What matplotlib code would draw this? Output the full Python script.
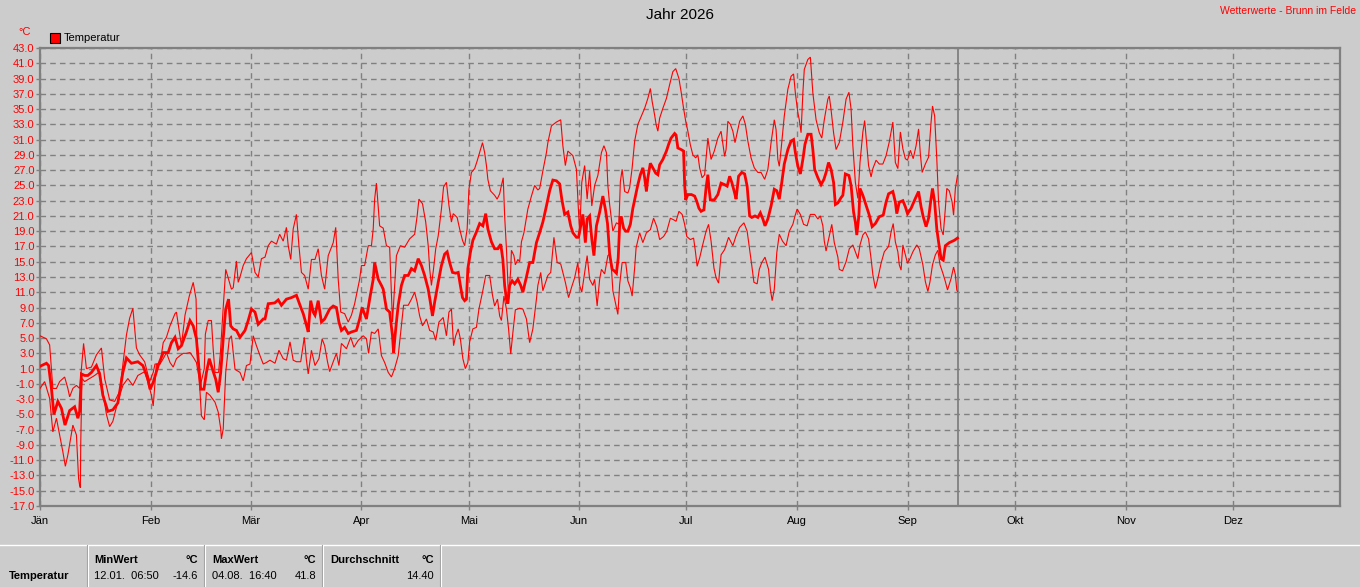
import numpy as np
import pandas as pd
import matplotlib
matplotlib.use('Agg')
import matplotlib.pyplot as plt
from matplotlib.lines import Line2D
from matplotlib.patches import Rectangle

plt.rcParams['font.family'] = ['Liberation Sans', 'DejaVu Sans']
plt.rcParams['lines.scale_dashes'] = False

W, H = 1360, 587
BG = '#cccccc'
GRID = '#808080'

YEAR = 2026
MONTHS = ['Jän', 'Feb', 'Mär', 'Apr', 'Mai', 'Jun', 'Jul', 'Aug', 'Sep', 'Okt', 'Nov', 'Dez']
TODAY = '2026-09-15'
STATION = 'Wetterwerte - Brunn im Felde'

# (day of year counted from 1 Jan = 0, deg C)
temp_max = [
    (0.0, 5.3), (1.8, 4.9), (2.7, 4.1), (3.6, -1.6), (4.6, -1.6), (5.5, -0.7), (6.9, -0.1), (7.8, -1.6),
    (8.3, -2.7), (9.2, -1.6), (10.2, -1.2), (11.1, -1.6), (11.6, 1.0), (12.2, 4.3), (13.0, 1.0), (14.4, 1.2),
    (15.8, 2.8), (17.2, 3.7), (18.1, -0.3), (19.5, -3.1), (20.9, -3.3), (22.3, -2.0), (24.2, 5.4), (25.1, 7.6),
    (26.0, 8.9), (27.0, 3.7), (27.9, 2.8), (29.3, 1.9), (30.7, -0.7), (31.7, 0.5), (32.2, 1.6), (33.6, 1.6),
    (34.5, 4.4), (35.4, 5.1), (36.4, 6.6), (37.8, 8.2), (38.2, 8.4), (39.6, 4.0), (40.6, 8.0), (41.8, 10.5),
    (42.9, 12.3), (43.7, 10.1), (43.9, 5.0), (44.5, 1.5), (45.0, -1.0), (46.0, 1.0), (46.3, 5.5), (47.1, 7.3),
    (48.0, 7.3), (48.5, 3.5), (49.0, 0.5), (50.0, 0.5), (50.5, 3.0), (51.3, 9.0), (52.0, 14.0), (53.6, 11.4),
    (54.1, 11.6), (55.0, 15.1), (55.5, 12.3), (56.0, 13.0), (56.9, 14.5), (57.8, 15.4), (59.2, 16.2), (60.2, 13.6),
    (61.1, 13.0), (62.0, 15.4), (63.0, 15.6), (63.9, 17.1), (64.8, 17.7), (66.2, 17.3), (67.1, 18.6), (68.1, 17.7),
    (69.0, 19.5), (69.5, 17.1), (70.2, 15.3), (70.9, 19.3), (71.8, 21.2), (72.5, 17.1), (73.2, 13.6), (74.1, 13.2),
    (75.1, 11.4), (76.0, 15.3), (77.0, 15.3), (77.9, 16.7), (78.8, 13.2), (79.7, 11.4), (80.7, 15.8), (82.1, 17.5),
    (82.8, 19.5), (83.5, 12.7), (84.2, 8.4), (85.3, 8.2), (86.3, 7.1), (87.2, 8.0), (88.1, 9.5), (89.5, 12.7),
    (90.0, 14.5), (90.9, 14.5), (91.9, 17.1), (92.8, 17.1), (93.3, 19.3), (93.7, 23.2), (94.2, 25.3), (95.1, 19.7),
    (96.1, 19.4), (97.0, 17.1), (97.9, 16.9), (98.7, 7.1), (99.8, 15.8), (100.9, 17.1), (102.1, 16.9), (103.5, 18.0),
    (104.9, 18.6), (105.6, 21.0), (106.1, 23.2), (107.1, 22.6), (108.0, 20.2), (108.7, 17.1), (109.1, 14.1), (109.6, 11.9),
    (110.2, 14.1), (110.8, 16.7), (111.5, 18.4), (112.4, 21.9), (113.0, 24.8), (113.8, 25.4), (114.5, 22.4), (115.2, 20.2),
    (115.7, 21.3), (116.8, 20.8), (117.5, 19.3), (118.3, 17.8), (118.9, 17.1), (119.6, 19.3), (120.1, 24.5), (120.8, 26.7),
    (121.7, 27.2), (122.4, 28.2), (123.1, 29.3), (123.9, 30.6), (124.5, 29.3), (125.0, 27.6), (125.4, 25.8), (126.1, 24.3),
    (127.3, 23.7), (128.0, 23.2), (128.7, 23.9), (129.2, 25.0), (129.7, 26.0), (130.1, 21.0), (130.6, 16.7), (131.2, 10.1),
    (131.8, 14.0), (132.0, 16.5), (132.7, 15.8), (133.1, 14.6), (133.8, 15.3), (134.3, 15.0), (134.8, 17.6), (135.5, 18.8),
    (136.6, 21.9), (137.6, 23.6), (138.5, 25.0), (139.4, 24.4), (139.9, 24.6), (140.8, 26.9), (141.8, 29.3), (142.2, 30.6),
    (143.2, 32.8), (144.6, 33.3), (145.8, 33.6), (146.4, 30.2), (147.1, 27.6), (147.8, 29.5), (149.2, 28.9), (150.2, 27.1),
    (150.6, 23.2), (151.1, 18.8), (151.7, 25.4), (152.5, 27.6), (153.2, 23.2), (153.9, 26.9), (154.5, 22.3), (155.3, 25.0),
    (156.2, 26.3), (157.2, 29.3), (157.9, 30.2), (158.6, 29.3), (159.0, 25.0), (159.5, 22.5), (160.4, 19.0), (161.4, 20.1),
    (162.1, 19.9), (162.5, 25.5), (163.0, 27.1), (163.7, 24.2), (164.6, 24.0), (165.1, 24.7), (165.8, 27.3), (166.5, 30.8),
    (167.4, 33.0), (168.3, 34.0), (169.3, 35.1), (170.2, 36.4), (170.9, 37.7), (171.4, 36.0), (172.1, 34.2), (172.5, 33.0),
    (173.0, 32.1), (173.5, 33.8), (174.4, 35.1), (175.4, 36.4), (176.3, 38.2), (177.2, 39.9), (178.0, 40.3), (178.9, 39.0),
    (179.5, 37.3), (180.2, 35.1), (180.8, 33.4), (181.4, 32.1), (182.1, 30.3), (182.8, 29.0), (183.6, 28.6), (184.2, 29.0),
    (184.7, 27.3), (185.4, 26.0), (186.1, 26.4), (186.5, 28.6), (187.0, 31.2), (187.4, 29.9), (187.9, 28.4), (188.8, 29.5),
    (189.8, 31.2), (190.7, 32.1), (191.2, 30.5), (191.7, 28.8), (192.1, 29.7), (192.6, 33.4), (193.3, 33.0), (194.0, 32.1),
    (194.6, 30.6), (195.2, 31.9), (195.9, 33.4), (196.8, 34.1), (197.5, 33.0), (198.2, 30.8), (199.1, 28.6), (200.0, 27.3),
    (201.0, 26.7), (201.9, 26.7), (202.9, 25.8), (203.8, 27.1), (204.7, 30.6), (205.6, 33.6), (206.1, 32.3), (206.6, 28.4),
    (207.0, 27.5), (207.5, 29.7), (208.4, 34.1), (209.4, 37.6), (210.3, 39.3), (211.0, 39.6), (211.5, 37.1), (212.2, 34.5),
    (212.6, 33.6), (213.1, 31.9), (213.6, 37.1), (214.0, 40.2), (215.0, 41.5), (215.7, 41.8), (216.4, 37.1), (217.3, 33.6),
    (218.2, 31.9), (218.9, 31.2), (219.6, 33.6), (220.6, 36.3), (221.0, 36.7), (221.5, 34.9), (222.2, 31.9), (222.9, 29.7),
    (223.8, 30.6), (224.8, 33.3), (225.7, 36.3), (226.5, 37.2), (227.1, 35.0), (227.6, 30.2), (228.3, 25.4), (229.0, 23.3),
    (229.6, 28.0), (230.4, 32.0), (230.9, 33.5), (231.5, 30.2), (232.0, 27.6), (232.7, 26.1), (233.2, 27.2), (234.1, 28.3),
    (235.0, 27.8), (236.0, 27.8), (236.9, 28.9), (237.8, 30.7), (238.8, 33.3), (239.5, 28.0), (240.2, 27.2), (240.9, 32.0),
    (241.6, 29.8), (242.3, 28.5), (242.9, 28.3), (243.7, 29.6), (244.5, 28.5), (245.3, 30.2), (246.0, 32.4), (246.5, 29.1),
    (247.0, 26.7), (247.9, 27.8), (248.8, 28.7), (249.5, 33.3), (249.9, 35.4), (250.5, 34.1), (251.1, 28.5), (251.6, 22.8),
    (252.3, 19.3), (252.9, 18.5), (253.5, 22.0), (253.9, 24.6), (254.6, 24.3), (255.4, 22.8), (255.8, 21.1), (256.3, 24.6),
    (256.9, 26.3),
]

temp_mean = [
    (0.0, 1.3), (1.8, 1.7), (2.4, 1.4), (3.2, -1.6), (3.9, -5.0), (5.0, -3.3), (6.0, -4.2), (7.0, -6.4),
    (8.3, -4.5), (9.7, -4.0), (10.6, -5.5), (11.1, -4.6), (11.6, 0.3), (12.5, 0.1), (13.4, 0.1), (14.4, 0.5),
    (15.8, 1.4), (16.7, 0.3), (17.6, -2.5), (18.6, -4.0), (19.0, -4.6), (20.4, -4.4), (21.8, -3.5), (23.2, 0.5),
    (24.2, 2.4), (25.6, 1.7), (27.4, 1.9), (28.8, 1.4), (30.2, -0.3), (30.8, -1.7), (31.7, -0.8), (33.1, 1.4),
    (34.5, 3.1), (35.9, 3.1), (36.8, 4.4), (37.8, 5.1), (38.7, 3.6), (39.6, 4.0), (41.0, 5.8), (42.0, 7.3),
    (42.9, 6.6), (43.8, 4.9), (44.6, 0.5), (45.0, -1.7), (45.9, -1.7), (46.6, 0.5), (47.4, 2.3), (48.3, 0.9),
    (49.2, -0.4), (49.9, -2.1), (50.6, 0.5), (51.3, 4.9), (52.0, 8.8), (52.8, 10.1), (53.4, 6.6), (54.1, 6.2),
    (55.0, 6.0), (56.0, 5.1), (57.4, 6.0), (58.3, 7.3), (59.2, 8.8), (60.2, 8.4), (61.1, 6.8), (62.5, 7.5),
    (63.0, 7.5), (63.9, 9.5), (65.7, 9.6), (66.7, 10.0), (67.6, 9.3), (69.0, 10.1), (70.4, 10.3), (71.8, 10.6),
    (72.8, 9.3), (73.7, 8.2), (74.6, 6.7), (75.1, 5.8), (75.8, 9.9), (76.5, 8.4), (77.0, 8.0), (77.9, 9.9),
    (78.8, 7.1), (79.7, 7.5), (81.1, 8.8), (82.1, 9.2), (83.0, 9.0), (83.7, 7.1), (84.4, 6.0), (85.3, 6.4),
    (86.3, 5.6), (87.2, 5.8), (88.6, 6.0), (89.5, 7.5), (90.2, 9.0), (91.0, 8.0), (91.4, 7.5), (92.3, 10.1),
    (93.3, 12.7), (93.7, 14.9), (94.7, 12.7), (95.6, 11.9), (96.1, 11.4), (97.0, 8.8), (97.9, 8.4), (98.7, 5.3),
    (99.0, 3.1), (99.6, 6.2), (100.3, 9.3), (101.2, 11.9), (102.1, 13.2), (103.1, 13.2), (104.0, 14.1), (104.9, 13.8),
    (105.9, 15.4), (106.8, 14.5), (107.7, 13.2), (108.7, 11.4), (109.3, 9.7), (109.9, 7.9), (110.5, 9.7), (111.5, 12.3),
    (112.4, 14.5), (113.3, 16.0), (114.0, 16.3), (114.7, 14.9), (115.5, 13.6), (116.4, 13.5), (117.1, 13.6), (117.7, 11.9),
    (118.3, 10.3), (118.9, 9.9), (119.4, 10.1), (119.8, 14.1), (120.5, 16.2), (121.2, 17.8), (122.2, 18.9), (123.1, 20.0),
    (124.0, 19.7), (124.8, 21.3), (125.4, 19.3), (126.4, 17.6), (127.3, 16.7), (128.2, 16.7), (129.0, 17.3), (129.6, 15.3),
    (130.1, 11.9), (130.6, 10.1), (131.0, 9.5), (131.5, 11.9), (132.2, 12.5), (132.9, 12.1), (133.8, 12.7), (134.6, 11.9),
    (135.2, 11.0), (136.2, 13.0), (137.1, 14.9), (138.0, 14.9), (139.0, 17.5), (139.9, 18.8), (140.8, 20.2), (141.8, 22.3),
    (142.7, 24.3), (143.6, 25.7), (144.6, 25.6), (145.5, 25.2), (146.1, 23.2), (146.9, 21.2), (147.8, 21.5), (148.6, 19.7),
    (149.2, 18.8), (150.2, 18.2), (150.8, 18.2), (151.6, 20.2), (152.0, 21.2), (152.7, 17.5), (153.2, 20.6), (153.9, 21.0),
    (154.5, 18.0), (155.1, 15.8), (155.8, 19.7), (156.7, 21.5), (157.6, 23.6), (158.3, 21.9), (158.9, 20.0), (159.5, 16.0),
    (160.2, 14.0), (160.8, 13.8), (161.4, 13.5), (161.9, 15.5), (162.4, 20.8), (162.8, 20.8), (163.4, 19.4), (164.0, 19.0),
    (164.6, 19.0), (165.3, 19.9), (166.0, 22.0), (166.8, 23.8), (167.4, 25.1), (168.1, 26.4), (168.8, 27.3), (169.3, 26.0),
    (169.8, 24.2), (170.2, 26.0), (170.9, 27.9), (171.6, 27.3), (172.4, 26.6), (173.0, 26.4), (173.5, 27.7), (174.4, 28.4),
    (175.4, 29.5), (176.1, 30.5), (176.7, 31.2), (177.7, 31.8), (178.1, 31.6), (178.6, 29.9), (179.5, 29.7), (180.2, 29.5),
    (180.5, 25.1), (180.8, 23.1), (181.4, 23.8), (182.4, 23.8), (183.3, 23.6), (183.9, 22.9), (184.5, 22.0), (185.1, 21.6),
    (185.9, 21.8), (186.5, 24.7), (187.0, 26.4), (187.3, 24.7), (187.7, 23.1), (188.8, 23.1), (189.8, 23.8), (190.7, 25.3),
    (191.7, 25.1), (192.4, 24.9), (193.1, 26.2), (193.7, 25.4), (194.5, 24.0), (194.9, 23.2), (195.6, 26.2), (196.5, 26.7),
    (197.3, 26.5), (198.0, 24.9), (198.7, 21.0), (199.3, 20.8), (200.2, 21.0), (201.0, 20.8), (201.7, 21.4), (202.4, 20.6),
    (203.0, 19.7), (203.8, 20.6), (204.7, 22.3), (205.6, 24.5), (206.3, 24.3), (207.0, 23.2), (207.7, 25.4), (208.4, 27.8),
    (209.4, 29.7), (210.3, 30.8), (211.0, 31.0), (211.5, 29.3), (212.2, 27.5), (212.9, 26.5), (213.6, 28.4), (214.2, 30.4),
    (215.0, 31.7), (215.9, 31.7), (216.4, 29.7), (216.9, 27.1), (217.8, 26.0), (218.7, 25.1), (219.5, 25.8), (220.1, 26.7),
    (220.8, 28.0), (221.5, 27.1), (222.2, 25.4), (222.7, 22.5), (223.4, 22.7), (224.3, 23.4), (224.8, 23.7), (225.5, 26.5),
    (226.5, 26.3), (227.1, 25.0), (227.8, 21.5), (228.3, 20.2), (228.7, 18.5), (229.3, 21.1), (229.6, 24.6), (230.4, 23.7),
    (231.3, 22.4), (232.2, 21.1), (233.0, 19.6), (233.9, 20.0), (235.0, 20.9), (236.1, 21.1), (236.9, 22.8), (237.6, 23.9),
    (238.8, 24.2), (239.5, 22.8), (239.9, 21.3), (240.6, 22.8), (241.6, 23.0), (242.3, 22.2), (242.9, 21.3), (243.9, 22.0),
    (245.1, 23.3), (246.0, 24.2), (246.7, 22.2), (247.3, 20.9), (248.1, 19.6), (248.8, 20.7), (249.5, 23.3), (249.9, 24.6),
    (250.5, 22.8), (251.1, 19.3), (251.6, 17.6), (252.3, 15.4), (252.9, 15.2), (253.5, 17.1), (254.6, 17.5), (256.0, 17.8),
    (256.9, 18.1),
]

temp_min = [
    (0.0, -1.6), (1.3, -0.7), (2.7, -2.9), (3.6, -7.3), (4.6, -5.5), (5.5, -7.7), (6.4, -9.9), (7.1, -11.8),
    (7.8, -10.3), (9.2, -6.4), (10.2, -7.7), (10.8, -13.4), (11.1, -14.3), (11.3, -14.6), (11.4, -9.0), (11.75, -0.3),
    (12.5, -0.7), (13.9, -0.3), (15.3, 0.1), (16.7, 0.6), (17.6, -2.0), (18.6, -5.0), (19.5, -6.6), (20.4, -5.9),
    (21.8, -3.3), (23.2, -1.2), (24.6, -0.3), (26.0, -1.2), (27.4, 0.1), (29.3, 0.6), (30.7, -1.6), (31.2, -2.5),
    (31.7, -3.9), (32.6, 1.6), (33.6, 1.6), (34.5, 2.3), (35.4, 3.1), (36.4, 1.8), (37.3, 1.2), (38.2, 2.3),
    (39.2, 2.7), (40.1, 3.0), (41.0, 3.0), (42.0, 3.1), (42.9, 2.5), (43.8, 1.8), (44.6, -0.4), (45.2, -5.2),
    (46.0, -5.7), (46.6, -2.1), (47.6, -2.5), (49.0, -3.4), (49.9, -4.7), (50.6, -6.9), (50.8, -8.2), (51.3, -6.9),
    (52.0, 0.5), (53.0, 4.9), (53.6, 5.3), (54.6, 0.9), (56.0, 0.5), (56.9, -0.6), (57.8, 1.4), (58.8, 1.6),
    (59.7, 5.3), (60.6, 4.0), (61.6, 2.7), (62.5, 1.6), (63.4, 1.8), (64.4, 2.1), (65.8, 1.7), (66.9, 3.4),
    (68.1, 2.3), (69.0, 2.1), (70.0, 4.5), (70.9, 2.1), (71.8, 1.9), (73.0, 1.9), (74.0, 5.1), (74.6, 2.1),
    (75.1, 0.3), (76.0, 3.4), (77.0, 1.4), (78.1, 2.3), (79.0, 4.9), (79.7, 4.0), (80.5, 1.9), (81.1, 0.6),
    (82.1, 1.9), (83.0, 3.0), (83.7, 1.4), (84.4, 4.3), (85.8, 3.6), (87.0, 5.1), (87.9, 3.8), (89.1, 4.7),
    (90.5, 5.3), (91.4, 4.9), (92.0, 3.0), (92.8, 5.8), (93.7, 5.6), (94.7, 6.2), (95.6, 2.7), (96.5, 1.8),
    (97.5, 0.5), (98.4, -0.1), (99.3, 1.0), (100.3, 2.7), (101.2, 6.6), (101.8, 9.3), (103.1, 9.3), (104.0, 10.1),
    (104.9, 11.0), (105.6, 9.7), (106.3, 7.9), (107.1, 6.6), (108.2, 7.5), (109.1, 6.0), (110.1, 5.8), (110.8, 4.7),
    (111.7, 7.1), (112.9, 7.7), (113.8, 5.3), (114.5, 8.4), (115.2, 8.8), (115.8, 4.0), (116.4, 5.3), (117.1, 6.2),
    (117.7, 4.9), (118.4, 2.3), (119.1, 1.0), (119.8, 1.8), (120.3, 4.5), (121.2, 6.2), (122.2, 6.4), (122.9, 8.8),
    (123.9, 11.0), (124.8, 13.2), (125.9, 13.2), (126.7, 10.6), (127.3, 9.2), (128.1, 10.1), (128.7, 7.9), (129.2, 7.3),
    (129.9, 10.5), (130.6, 8.8), (131.2, 6.2), (131.8, 2.9), (132.4, 5.7), (133.1, 8.7), (134.3, 8.9), (135.2, 8.8),
    (136.2, 7.5), (137.1, 4.4), (138.0, 6.2), (139.0, 10.1), (139.4, 11.9), (140.2, 13.6), (140.8, 11.2), (141.3, 11.9),
    (142.2, 13.2), (143.0, 13.6), (143.9, 18.2), (144.8, 14.9), (145.8, 14.7), (146.4, 13.6), (147.1, 12.3), (148.0, 10.3),
    (148.8, 11.6), (149.7, 12.9), (150.6, 14.9), (151.1, 11.9), (151.7, 11.0), (152.5, 13.6), (153.2, 15.8), (153.9, 12.7),
    (154.8, 11.9), (155.3, 12.7), (156.0, 9.2), (156.7, 12.7), (157.2, 14.0), (158.1, 13.4), (159.0, 15.8), (159.5, 16.0),
    (160.0, 14.2), (160.4, 11.2), (161.2, 9.4), (161.8, 8.1), (162.3, 12.0), (163.0, 14.9), (164.0, 14.9), (164.6, 12.5),
    (165.3, 11.6), (165.8, 10.5), (166.5, 14.2), (166.9, 16.8), (167.9, 18.8), (168.8, 17.5), (169.8, 18.8), (170.9, 19.2),
    (171.8, 20.7), (172.7, 19.6), (173.5, 17.9), (174.6, 18.3), (175.5, 19.0), (176.5, 20.7), (177.4, 20.5), (178.1, 20.3),
    (178.9, 21.6), (179.8, 21.2), (180.5, 19.9), (181.1, 18.3), (182.1, 17.9), (183.0, 18.1), (183.5, 16.4), (184.0, 14.4),
    (184.7, 15.5), (185.6, 17.3), (186.5, 19.0), (187.2, 19.9), (187.9, 17.7), (188.7, 14.2), (189.3, 12.9), (190.0, 12.2),
    (190.7, 15.9), (191.7, 16.6), (192.8, 18.2), (194.0, 17.1), (194.9, 18.4), (195.9, 19.5), (197.1, 20.1), (198.0, 19.0),
    (198.7, 16.6), (199.3, 14.5), (199.9, 12.3), (200.8, 12.1), (201.4, 14.0), (202.1, 14.9), (203.0, 15.6), (204.0, 14.0),
    (204.5, 11.4), (205.0, 9.9), (205.6, 11.4), (206.3, 16.2), (207.0, 18.6), (207.9, 17.7), (208.9, 17.1), (209.8, 19.0),
    (210.8, 19.9), (211.4, 21.0), (212.0, 21.9), (212.9, 21.2), (213.8, 19.9), (214.8, 19.7), (215.7, 21.2), (216.9, 21.2),
    (217.8, 20.6), (218.5, 21.0), (219.2, 19.7), (219.6, 17.7), (220.1, 16.4), (221.0, 18.4), (221.7, 19.9), (222.4, 17.5),
    (223.4, 15.6), (223.8, 14.0), (224.7, 13.8), (225.7, 15.0), (226.6, 16.7), (227.6, 17.2), (228.3, 16.3), (229.0, 15.4),
    (229.6, 17.2), (230.4, 18.5), (231.1, 18.9), (232.0, 18.0), (232.7, 15.4), (233.2, 13.3), (233.9, 11.5), (234.6, 12.8),
    (235.5, 14.8), (236.4, 16.3), (237.6, 17.0), (238.3, 18.9), (238.9, 20.0), (239.5, 17.6), (240.2, 16.3), (240.6, 14.6),
    (241.1, 13.9), (241.6, 17.2), (242.3, 15.9), (242.9, 14.8), (243.6, 15.4), (244.4, 16.3), (245.5, 17.2), (246.2, 16.7),
    (247.2, 14.6), (247.9, 12.4), (248.6, 11.1), (249.2, 12.4), (249.9, 14.6), (250.7, 15.9), (251.4, 16.5), (252.0, 14.6),
    (252.8, 13.5), (253.5, 12.4), (254.1, 11.3), (255.1, 12.8), (255.8, 14.3), (256.3, 13.3), (256.7, 11.3), (256.9, 11.1),
]

# bottom summary table
series_name = 'Temperatur'
stat_titles = ['MinWert', 'MaxWert', 'Durchschnitt']
stat_times = ['12.01.  06:50', '04.08.  16:40', '']
stat_values = ['-14.6', '41.8', '14.40']


def fx(px):
    return px / W


def fy(py):
    return 1 - py / H


fig = plt.figure(figsize=(W / 100, H / 100), dpi=100, facecolor=BG)
ax = fig.add_axes([fx(40), fy(506), fx(1300), 458 / H], facecolor=BG)

for pts, lw in ((temp_max, 0.8), (temp_min, 0.8), (temp_mean, 2.0)):
    d, v = np.array(pts).T
    ax.plot(d, v, color='#ff0000', lw=lw, solid_joinstyle='miter', zorder=3)

year_start = pd.Timestamp(f'{YEAR}-01-01')
month_days = (pd.date_range(year_start, periods=12, freq='MS') - year_start).days
today = (pd.Timestamp(TODAY) - year_start).days

ax.axvline(today, color=GRID, lw=1.3, zorder=2)

ax.set_xlim(0, 364)
ax.set_ylim(-17, 43)
ax.set_xticks(month_days)
ax.set_xticklabels(MONTHS)
ax.set_yticks(np.arange(-17, 44, 2))
ax.yaxis.set_major_formatter(lambda y, _: f'{y:.1f}')

ax.grid(True, color=GRID, linestyle=(0, (4, 3)), linewidth=1)
ax.set_axisbelow(True)
for s in ax.spines.values():
    s.set_color(GRID)
    s.set_linewidth(1.6)
ax.tick_params(axis='y', colors=GRID, labelcolor='#ff0000', labelsize=8, length=3, width=1, pad=1)
ax.tick_params(axis='x', colors=GRID, labelcolor='black', labelsize=8, length=3, width=1, pad=4)

# header texts
fig.text(fx(680), fy(15), f'Jahr {YEAR}', ha='center', va='center', fontsize=11)
fig.text(fx(1356), fy(11), STATION, ha='right', va='center', fontsize=7.5, color='#ff0000')
fig.text(fx(25), fy(32), '°C', ha='center', va='center', fontsize=8, color='#ff0000')
fig.add_artist(Rectangle((fx(50), fy(43)), 10 / W, 10 / H, transform=fig.transFigure,
                         facecolor='#ff0000', edgecolor='black', lw=0.8))
fig.text(fx(64), fy(38), series_name, ha='left', va='center', fontsize=8)

# summary table
fig.add_artist(Line2D([0, 1], [fy(544.5)] * 2, transform=fig.transFigure, color='white', lw=1))
for xs in (88, 205, 323, 441):
    fig.add_artist(Line2D([fx(xs - 1)] * 2, [fy(545), 0], transform=fig.transFigure, color='#a0a0a0', lw=0.8))
    fig.add_artist(Line2D([fx(xs)] * 2, [fy(545), 0], transform=fig.transFigure, color='white', lw=0.8))

fig.text(fx(9), fy(576), series_name, ha='left', va='center', fontsize=8, fontweight='bold')
for i, (title, when, val) in enumerate(zip(stat_titles, stat_times, stat_values)):
    left = 94 + i * 118
    right = 198 + i * 118
    fig.text(fx(left), fy(560), title, ha='left', va='center', fontsize=8, fontweight='bold')
    fig.text(fx(right), fy(560), '°C', ha='right', va='center', fontsize=8, fontweight='bold')
    if when:
        fig.text(fx(left), fy(576), when, ha='left', va='center', fontsize=8)
    fig.text(fx(right), fy(576), val, ha='right', va='center', fontsize=8)

fig.savefig('out.png', dpi=100, facecolor=BG)
